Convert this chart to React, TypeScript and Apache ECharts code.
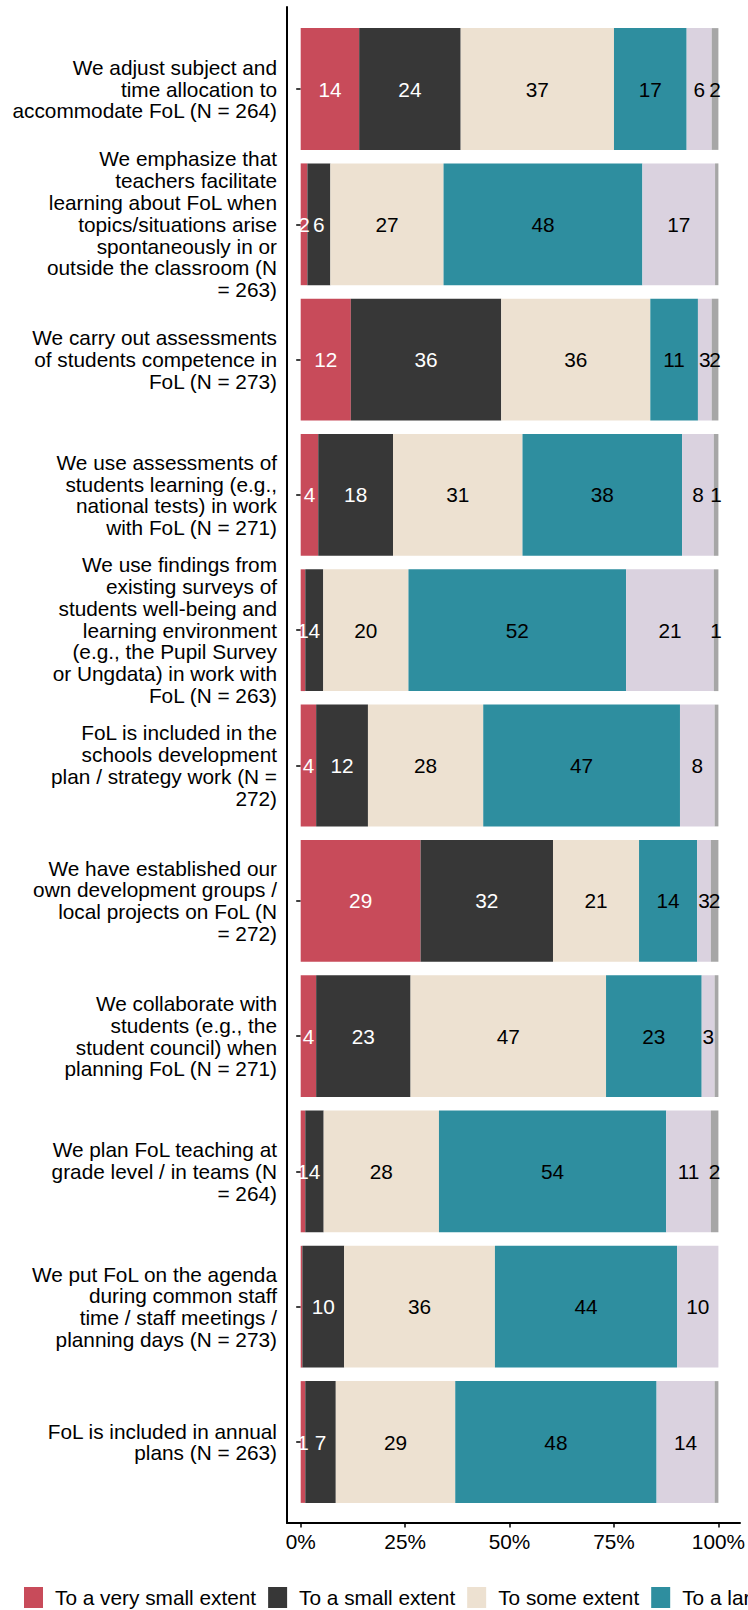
import React, { useEffect, useRef } from "react";
import * as echarts from "echarts";

const categories: string[] = [
  "We adjust subject and\ntime allocation to\naccommodate FoL (N = 264)",
  "We emphasize that\nteachers facilitate\nlearning about FoL when\ntopics/situations arise\nspontaneously in or\noutside the classroom (N\n= 263)",
  "We carry out assessments\nof students competence in\nFoL (N = 273)",
  "We use assessments of\nstudents learning (e.g.,\nnational tests) in work\nwith FoL (N = 271)",
  "We use findings from\nexisting surveys of\nstudents well-being and\nlearning environment\n(e.g., the Pupil Survey\nor Ungdata) in work with\nFoL (N = 263)",
  "FoL is included in the\nschools development\nplan / strategy work (N =\n272)",
  "We have established our\nown development groups /\nlocal projects on FoL (N\n= 272)",
  "We collaborate with\nstudents (e.g., the\nstudent council) when\nplanning FoL (N = 271)",
  "We plan FoL teaching at\ngrade level / in teams (N\n= 264)",
  "We put FoL on the agenda\nduring common staff\ntime / staff meetings /\nplanning days (N = 273)",
  "FoL is included in annual\nplans (N = 263)",
];

const seriesNames: string[] = [
  "To a very small extent",
  "To a small extent",
  "To some extent",
  "To a large extent",
  "To a very large extent",
  "Don't know",
];

const veryLow: number[] = [14.0, 1.6, 12.0, 4.2, 1.1, 3.7, 28.7, 3.7, 1.1, 0.4, 1.1];
const low: number[] = [24.3, 5.5, 36.0, 17.9, 4.3, 12.4, 31.7, 22.6, 4.4, 10.0, 7.3];
const some: number[] = [36.7, 27.1, 35.7, 31.0, 20.4, 27.6, 20.6, 46.8, 27.6, 36.1, 28.6];
const large: number[] = [17.4, 47.6, 11.4, 38.2, 52.1, 47.1, 13.9, 22.9, 54.4, 43.6, 48.2];
const veryLarge: number[] = [6.0, 17.4, 3.3, 7.6, 21.0, 8.3, 3.3, 3.1, 10.7, 9.9, 13.9];
const dontKnow: number[] = [1.6, 0.8, 1.6, 1.1, 1.1, 0.9, 1.8, 0.9, 1.8, 0.0, 0.9];

const xTicks: number[] = [0, 25, 50, 75, 100];

const colors = ["#C84B5A", "#373737", "#EDE1D1", "#2E8E9F", "#DAD2DF", "#A6A6A6"];
const labelColors = ["#FFFFFF", "#FFFFFF", "#000000", "#000000", "#000000", "#000000"];

const FONT = "'Liberation Sans', Arial, Helvetica, sans-serif";
const FS = 20.8;

export default function App() {
  const ref = useRef<HTMLDivElement>(null);

  useEffect(() => {
    if (!ref.current) return;
    const chart = echarts.init(ref.current, null, { renderer: "svg" });
    const values = [veryLow, low, some, large, veryLarge, dontKnow];

    const option: any = {
      animation: false,
      backgroundColor: "#FFFFFF",
      textStyle: { fontFamily: FONT },
      legend: {
        data: seriesNames,
        icon: "rect",
        orient: "horizontal",
        left: 24,
        top: 1587,
        width: 3000,
        padding: 0,
        itemWidth: 19,
        itemHeight: 21,
        itemGap: 12,
        textStyle: {
          fontFamily: FONT,
          fontSize: FS,
          color: "#000000",
          padding: [0, 0, 0, 7],
        },
      },
      grid: [
        { left: 300.7, right: 27.3, top: 21.35, height: 1488.3 },
        { left: 287, top: 7, width: 453, height: 1516 },
      ],
      xAxis: [
        {
          type: "value",
          gridIndex: 0,
          min: 0,
          max: 100,
          interval: 25,
          offset: 13.35,
          axisLine: { show: false },
          axisTick: { show: true, length: 4.5, lineStyle: { color: "#000", width: 1.5 } },
          axisLabel: {
            show: true,
            margin: 8,
            fontSize: FS,
            fontFamily: FONT,
            color: "#000",
            formatter: (v: number) => (xTicks.includes(v) ? v + "%" : ""),
          },
          splitLine: { show: false },
        },
        {
          type: "value",
          gridIndex: 1,
          min: 0,
          max: 1,
          axisLine: { show: true, onZero: false, lineStyle: { color: "#000", width: 2 } },
          axisTick: { show: false },
          axisLabel: { show: false },
          splitLine: { show: false },
        },
      ],
      yAxis: [
        {
          type: "category",
          gridIndex: 0,
          data: categories,
          inverse: true,
          offset: 13.7,
          axisLine: { show: false },
          axisTick: { show: true, alignWithLabel: true, length: 4.5, lineStyle: { color: "#000", width: 1.5 } },
          axisLabel: {
            show: true,
            interval: 0,
            margin: 10,
            fontSize: FS,
            lineHeight: 21.8,
            fontFamily: FONT,
            color: "#000",
            align: "right",
          },
          splitLine: { show: false },
        },
        {
          type: "value",
          gridIndex: 1,
          min: 0,
          max: 1,
          axisLine: { show: true, onZero: false, lineStyle: { color: "#000", width: 2 } },
          axisTick: { show: false },
          axisLabel: { show: false },
          splitLine: { show: false },
        },
      ],
      series: seriesNames.map((name, i) => ({
        name,
        type: "bar",
        stack: "total",
        xAxisIndex: 0,
        yAxisIndex: 0,
        barWidth: "90%",
        data: values[i],
        itemStyle: { color: colors[i] },
        label: {
          show: true,
          position: "inside",
          fontSize: FS,
          fontFamily: FONT,
          color: labelColors[i],
          textBorderWidth: 0,
          formatter: (p: any) => (p.value >= 1 ? String(Math.round(p.value)) : ""),
        },
        emphasis: { disabled: true },
      })),
    };

    chart.setOption(option);
    return () => chart.dispose();
  }, []);

  return (
    <div
      ref={ref}
      style={{ position: "fixed", left: 0, top: 0, width: 748, height: 1610, background: "#fff" }}
    />
  );
}
